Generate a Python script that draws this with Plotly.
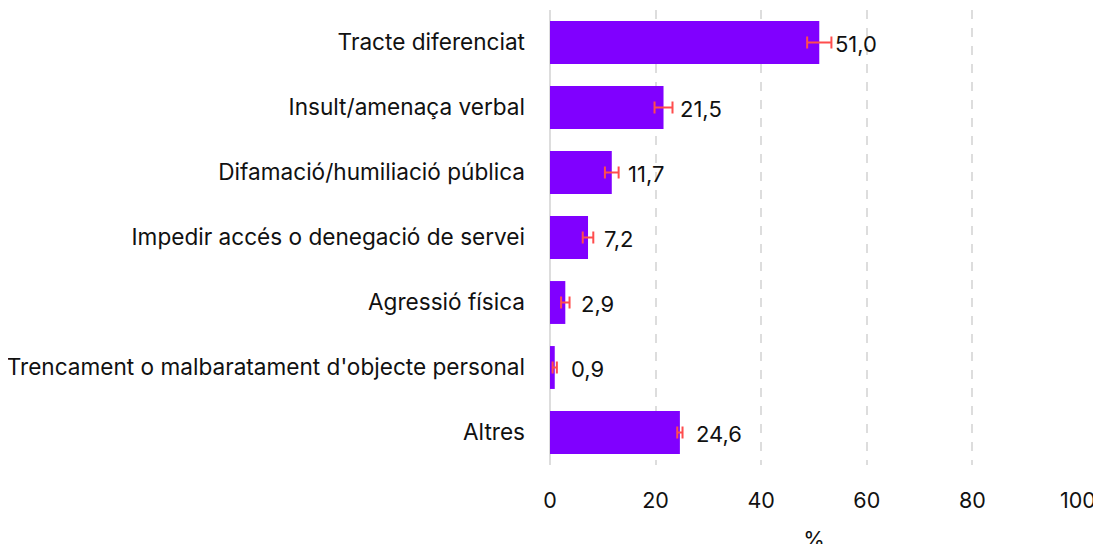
import plotly.graph_objects as go

categories = [
    "Tracte diferenciat",
    "Insult/amenaça verbal",
    "Difamació/humiliació pública",
    "Impedir accés o denegació de servei",
    "Agressió física",
    "Trencament o malbaratament d'objecte personal",
    "Altres",
]
values = [51.0, 21.5, 11.7, 7.2, 2.9, 0.9, 24.6]
errors = [2.3, 1.7, 1.3, 1.0, 0.8, 0.4, 0.5]
labels = ["51,0", "21,5", "11,7", "7,2", "2,9", "0,9", "24,6"]
x_ticks = [0, 20, 40, 60, 80, 100]

FONT = "Inter, Roboto, sans-serif"
FS = 22

fig = go.Figure()
fig.add_trace(go.Bar(
    y=categories,
    x=values,
    orientation="h",
    marker=dict(color="#8000FF", line=dict(width=0)),
    error_x=dict(type="data", array=errors, visible=True, color="#FF4D4D",
                 thickness=2, width=6),
    width=0.66,
    hoverinfo="x+y",
))

for c, v, t in zip(categories, values, labels):
    fig.add_annotation(x=v, y=c, text=t, showarrow=False, xanchor="left",
                       xshift=14, yshift=-1, font=dict(size=FS, color="#111111", family=FONT))

fig.update_layout(
    width=1101, height=544,
    margin=dict(l=542, r=31, t=2, b=87),
    plot_bgcolor="white", paper_bgcolor="white",
    showlegend=False,
    font=dict(family=FONT, size=FS, color="#111111"),
    bargap=0.34,
)
fig.update_xaxes(
    range=[0, 100], tickvals=x_ticks, ticktext=[str(v) for v in x_ticks],
    showgrid=True, gridcolor="#DDDDDD", griddash="dash", gridwidth=1.5,
    zeroline=True, zerolinecolor="#DDDDDD", zerolinewidth=2,
    ticks="", ticklabelstandoff=20, showline=False,
    title=dict(text="%", standoff=28, font=dict(size=FS)),
    tickfont=dict(size=21.5), automargin=False,
)
fig.update_yaxes(
    autorange="reversed", showgrid=False, zeroline=False, showline=False,
    ticks="", ticklabelstandoff=24, tickfont=dict(size=22.6), automargin=False,
)

fig.write_html("out.html")
